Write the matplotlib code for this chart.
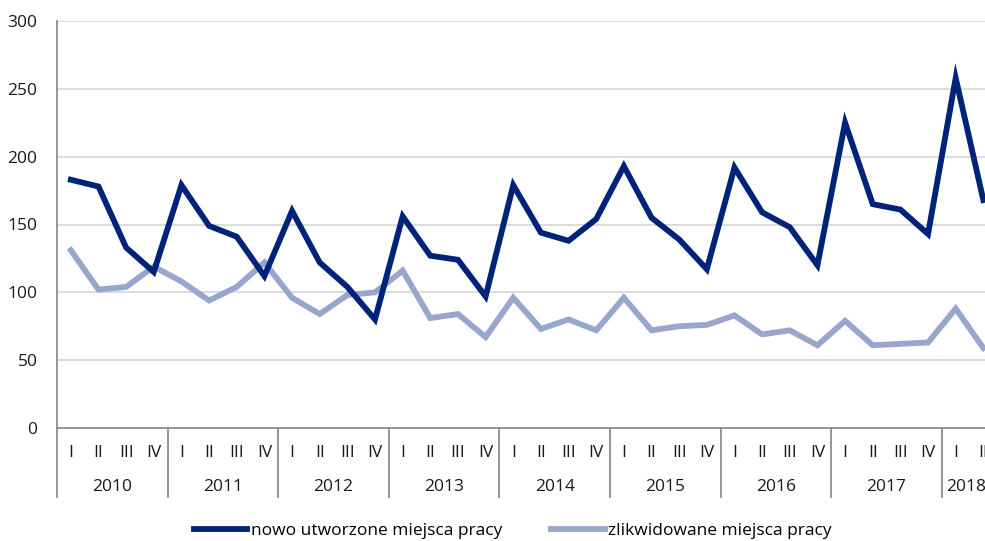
import matplotlib.pyplot as plt
import matplotlib.transforms as mtransforms
import numpy as np

plt.rcParams['font.family'] = ['Open Sans', 'DejaVu Sans']

years = ['2010', '2011', '2012', '2013', '2014', '2015', '2016', '2017', '2018']
quarters = ['I', 'II', 'III', 'IV']

# quarterly values, 2010 I .. 2018 II
new_jobs = [183, 178, 133, 115,
            179, 149, 141, 112,
            160, 122, 104, 80,
            156, 127, 124, 97,
            179, 144, 138, 154,
            193, 155, 139, 117,
            192, 159, 148, 120,
            225, 165, 161, 143,
            258, 168]
lost_jobs = [131, 102, 104, 119,
             108, 94, 104, 122,
             96, 84, 98, 100,
             116, 81, 84, 67,
             96, 73, 80, 72,
             96, 72, 75, 76,
             83, 69, 72, 61,
             79, 61, 62, 63,
             88, 59]

labels = ['nowo utworzone miejsca pracy', 'zlikwidowane miejsca pracy']
dark = '#00237a'
light = '#98a5cd'
grid_col = '#d9d9d9'
axis_col = '#8c8c8c'

W, H = 985, 541
fig = plt.figure(figsize=(W / 100, H / 100), dpi=100)
ax = fig.add_axes([57 / W, (H - 428) / H, (W - 57) / W, 407 / H])

x = np.arange(len(new_jobs))
ax.plot(x, new_jobs, color=dark, lw=4.2, solid_joinstyle='miter', label=labels[0], zorder=3)
ax.plot(x, lost_jobs, color=light, lw=4.2, solid_joinstyle='miter', label=labels[1], zorder=2)

ax.set_ylim(0, 300)
ax.set_yticks(range(0, 301, 50))
ax.grid(axis='y', color=grid_col, lw=1.3)
ax.set_axisbelow(True)

for s in ['top', 'right']:
    ax.spines[s].set_visible(False)
ax.spines['left'].set_color(axis_col)
ax.spines['bottom'].set_color(axis_col)
ax.spines['left'].set_linewidth(1.3)
ax.spines['bottom'].set_linewidth(1.3)

ax.tick_params(axis='y', length=0, pad=14, labelsize=12.5, labelcolor='#1a1a1a')

ax.set_xticks(x)
ax.set_xticklabels([quarters[i % 4] for i in x])
ax.tick_params(axis='x', length=0, pad=12, labelsize=12.5, labelcolor='#1a1a1a')
xmax = 33.06
ax.set_xlim(-0.5, xmax)

# year separators and labels below the axis
trans = mtransforms.blended_transform_factory(ax.transData, ax.transAxes)
depth = -69 / 407
for i, yr in enumerate(years):
    left = i * 4 - 0.5
    right = min(left + 4, xmax)
    ax.plot([left, left], [0, depth], transform=trans, color=axis_col, lw=1.3, clip_on=False)
    xc = (left + right) / 2 + (0.1 if right < left + 4 else 0)
    ax.text(xc, -59 / 407, yr, transform=trans, ha='center', va='center',
            fontsize=12.5, color='#1a1a1a', clip_on=False)

leg = ax.legend(loc='center', bbox_to_anchor=(0.491, -0.253), ncol=2, frameon=False,
                fontsize=12.5, handlelength=3.1, handletextpad=0.2, columnspacing=2.8)

fig.savefig('out.png', dpi=100)
